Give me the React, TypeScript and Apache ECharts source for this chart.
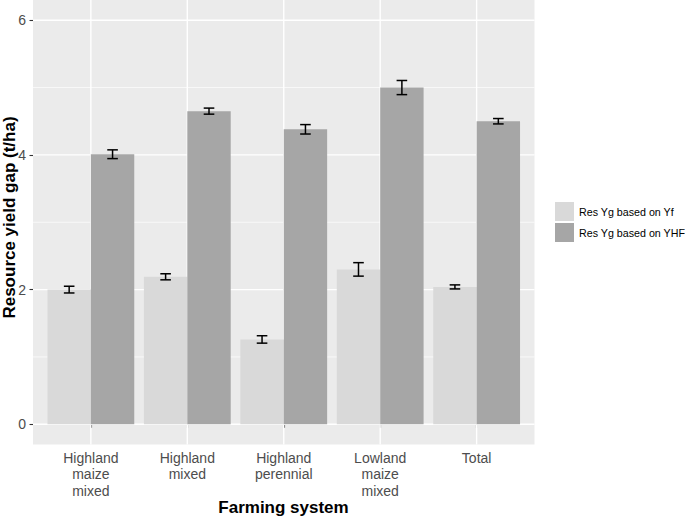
import React, { useEffect, useRef } from "react";
import * as echarts from "echarts";

const categories = [
  "Highland\nmaize\nmixed",
  "Highland\nmixed",
  "Highland\nperennial",
  "Lowland\nmaize\nmixed",
  "Total",
];
const seriesNames = ["Res Yg based on Yf", "Res Yg based on YHF"];
const yfValues = [2.0, 2.19, 1.26, 2.3, 2.04];
const yfErrors = [0.05, 0.045, 0.055, 0.1, 0.03];
const yhfValues = [4.01, 4.65, 4.38, 5.0, 4.5];
const yhfErrors = [0.065, 0.045, 0.07, 0.105, 0.04];
const yTicks = [0, 2, 4, 6];
const yMinorTicks = [1, 3, 5];
const xTitle = "Farming system";
const yTitle = "Resource yield gap (t/ha)";

const FONT = "'Liberation Sans', Arial, Helvetica, sans-serif";
const xPositions = categories.map((_, i) => i + 1);

export default function App() {
  const ref = useRef<HTMLDivElement>(null);

  useEffect(() => {
    if (!ref.current) return;
    const chart = echarts.init(ref.current, null, { renderer: "svg" });

    const gridLeft = 33;
    const gridWidth = 501.5;
    const xMin = 0.4;
    const xMax = 5.6;
    const pxPerUnit = gridWidth / (xMax - xMin);
    const barWidth = 0.45 * pxPerUnit;

    const gridData: number[][] = [
      ...yTicks.map((v) => [0, v, 1]),
      ...yMinorTicks.map((v) => [0, v, 0]),
      ...xPositions.map((x) => [1, x, 1]),
    ];

    const errData: number[][] = [
      ...yfValues.map((v, i) => [xPositions[i], v, yfErrors[i], -1]),
      ...yhfValues.map((v, i) => [xPositions[i], v, yhfErrors[i], 1]),
    ];

    const option: any = {
      animation: false,
      backgroundColor: "#ffffff",
      textStyle: { fontFamily: FONT },
      grid: {
        left: gridLeft,
        top: 0,
        width: gridWidth,
        height: 444.5,
        show: true,
        backgroundColor: "#EBEBEB",
        borderWidth: 0,
        containLabel: false,
      },
      legend: {
        data: seriesNames,
        orient: "vertical",
        left: 555,
        top: 202,
        padding: 0,
        itemWidth: 19,
        itemHeight: 19,
        itemGap: 2,
        icon: "rect",
        selectedMode: false,
        textStyle: { fontSize: 10.7, color: "#000", fontFamily: FONT },
      },
      xAxis: {
        type: "value",
        min: xMin,
        max: xMax,
        splitLine: { show: false },
        axisLine: { show: false },
        axisTick: {
          show: true,
          customValues: xPositions,
          length: 3.5,
          lineStyle: { color: "#333333", width: 1.1 },
        },
        axisLabel: {
          customValues: xPositions,
          formatter: (v: number) =>
            Number.isInteger(v) && categories[v - 1] ? categories[v - 1] : "",
          fontSize: 14,
          lineHeight: 16.5,
          color: "#4D4D4D",
          margin: 5,
          fontFamily: FONT,
          showMinLabel: true,
          showMaxLabel: true,
        },
      },
      yAxis: {
        type: "value",
        min: -0.3,
        max: 6.3,
        splitLine: { show: false },
        axisLine: { show: false },
        axisTick: {
          show: true,
          customValues: yTicks,
          length: 3.5,
          lineStyle: { color: "#333333", width: 1.1 },
        },
        axisLabel: {
          customValues: yTicks,
          formatter: (v: number) => (yTicks.includes(v) ? String(v) : ""),
          fontSize: 14,
          color: "#4D4D4D",
          margin: 7,
          fontFamily: FONT,
        },
      },
      graphic: [
        {
          type: "text",
          x: 9,
          y: 217.5,
          rotation: Math.PI / 2,
          style: {
            text: yTitle,
            fontSize: 17,
            fontWeight: "bold",
            fontFamily: FONT,
            fill: "#000",
            align: "center",
            verticalAlign: "middle",
          },
        },
        {
          type: "text",
          x: 283.5,
          y: 507,
          style: {
            text: xTitle,
            fontSize: 17,
            fontWeight: "bold",
            fontFamily: FONT,
            fill: "#000",
            align: "center",
            verticalAlign: "middle",
          },
        },
      ],
      series: [
        {
          type: "custom",
          name: "gridlines",
          z: 1,
          silent: true,
          clip: false,
          data: gridData,
          renderItem: (params: any, api: any) => {
            const cs = params.coordSys;
            const kind = api.value(0);
            const v = api.value(1);
            const major = api.value(2) === 1;
            const lw = major ? 1.4 : 0.7;
            if (kind === 0) {
              const p = api.coord([1, v]);
              return {
                type: "line",
                shape: { x1: cs.x, y1: p[1], x2: cs.x + cs.width, y2: p[1] },
                style: { stroke: "#FFFFFF", lineWidth: lw },
              };
            }
            const p = api.coord([v, 0]);
            return {
              type: "line",
              shape: { x1: p[0], y1: cs.y, x2: p[0], y2: cs.y + cs.height },
              style: { stroke: "#FFFFFF", lineWidth: lw },
            };
          },
        },
        {
          type: "bar",
          name: seriesNames[0],
          z: 2,
          barWidth: barWidth,
          barGap: "0%",
          itemStyle: { color: "#D9D9D9" },
          data: yfValues.map((v, i) => [xPositions[i], v]),
        },
        {
          type: "bar",
          name: seriesNames[1],
          z: 2,
          barWidth: barWidth,
          barGap: "0%",
          itemStyle: { color: "#A6A6A6" },
          data: yhfValues.map((v, i) => [xPositions[i], v]),
        },
        {
          type: "custom",
          name: "errorbars",
          z: 3,
          silent: true,
          data: errData,
          renderItem: (params: any, api: any) => {
            const x = api.value(0) + api.value(3) * 0.225;
            const v = api.value(1);
            const e = api.value(2);
            const half = 0.055;
            const top = api.coord([x, v + e]);
            const bot = api.coord([x, v - e]);
            const left = api.coord([x - half, v])[0];
            const right = api.coord([x + half, v])[0];
            const style = { stroke: "#000000", lineWidth: 1.5 };
            return {
              type: "group",
              children: [
                { type: "line", shape: { x1: left, y1: top[1], x2: right, y2: top[1] }, style },
                { type: "line", shape: { x1: left, y1: bot[1], x2: right, y2: bot[1] }, style },
                { type: "line", shape: { x1: top[0], y1: top[1], x2: bot[0], y2: bot[1] }, style },
              ],
            };
          },
        },
      ],
    };

    chart.setOption(option);
    return () => chart.dispose();
  }, []);

  return (
    <div
      ref={ref}
      style={{ position: "fixed", left: 0, top: 0, width: 685, height: 516 }}
    />
  );
}
